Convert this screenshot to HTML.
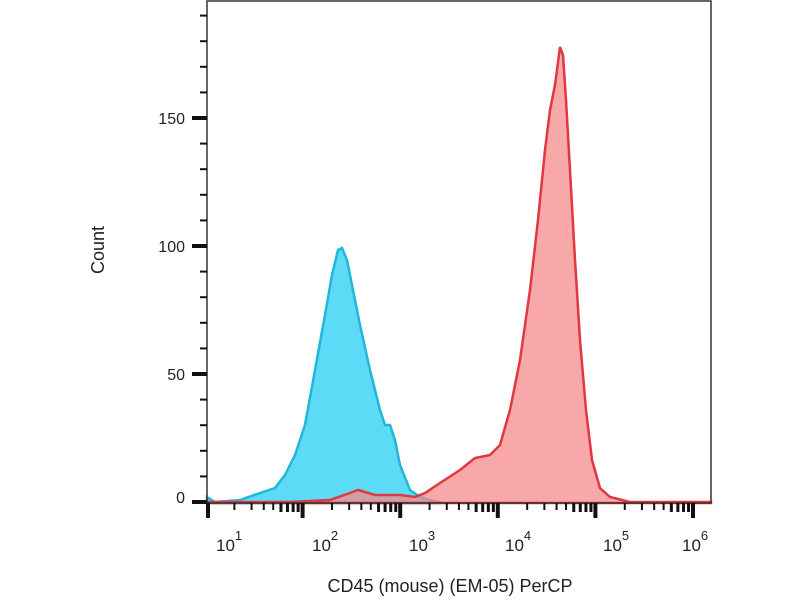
<!DOCTYPE html>
<html><head><meta charset="utf-8"><style>
body{margin:0;background:#fff;}
svg text{font-family:"Liberation Sans",sans-serif;fill:#222;}
</style></head><body>
<svg width="800" height="600" viewBox="0 0 800 600" xmlns="http://www.w3.org/2000/svg">
<rect width="800" height="600" fill="#fff"/>
<g id="curves">
<path d="M207,497 L215,502 L240,500 L260,493 L275,488 L285,475 L295,455 L305,425 L315,370 L325,315 L332,275 L338,250 L342,248 L347,260 L352,285 L360,325 L370,370 L380,410 L385,425 L390,425 L395,440 L400,465 L410,490 L420,497 L430,500 L440,502 L440,503 L207,503 Z" fill="#3fd4f4" fill-opacity="0.85" stroke="#1fb8d8" stroke-width="2.5"/>
<path d="M207,502 L290,502 L330,500 L350,493 L358,490 L365,492 L375,495 L400,495 L415,497 L425,493 L440,483 L460,470 L475,458 L490,455 L500,445 L510,410 L520,360 L530,290 L538,220 L545,150 L550,110 L555,85 L560,47 L563,55 L566,100 L570,170 L575,260 L580,340 L586,410 L592,460 L600,488 L610,497 L630,502 L711,502 L711,503 L207,503 Z" fill="#f68b8b" fill-opacity="0.75" stroke="#e0383f" stroke-width="2.5"/>
</g>
<rect x="207" y="1" width="504" height="502" fill="none" stroke="#333" stroke-width="1.5"/>
<g stroke="#111">
<line x1="192" y1="502" x2="207" y2="502" stroke-width="4"/>
<line x1="192" y1="374" x2="207" y2="374" stroke-width="4"/>
<line x1="192" y1="246" x2="207" y2="246" stroke-width="4"/>
<line x1="192" y1="118" x2="207" y2="118" stroke-width="4"/>
</g>
<g stroke="#111" stroke-width="2" id="ymin"></g>
<g stroke="#111" id="xt"></g>
<text x="185" y="124" font-size="16" text-anchor="end">150</text>
<text x="185" y="252" font-size="16" text-anchor="end">100</text>
<text x="185" y="380" font-size="16" text-anchor="end">50</text>
<text x="185" y="503" font-size="16" text-anchor="end">0</text>
<text transform="translate(104,250) rotate(-90)" font-size="18" text-anchor="middle">Count</text>
<text x="450" y="592" font-size="18" text-anchor="middle">CD45 (mouse) (EM-05) PerCP</text>
<g font-size="17">
<text x="216" y="551">10<tspan dy="-11" font-size="13">1</tspan></text>
<text x="312" y="551">10<tspan dy="-11" font-size="13">2</tspan></text>
<text x="409" y="551">10<tspan dy="-11" font-size="13">3</tspan></text>
<text x="505" y="551">10<tspan dy="-11" font-size="13">4</tspan></text>
<text x="603" y="551">10<tspan dy="-11" font-size="13">5</tspan></text>
<text x="682" y="551">10<tspan dy="-11" font-size="13">6</tspan></text>
</g>
<script>
var ns="http://www.w3.org/2000/svg";
var g=document.getElementById("ymin");
for(var v=10;v<=190;v+=10){if(v%50==0)continue;var y=502-v*2.56;var l=document.createElementNS(ns,"line");l.setAttribute("x1",200);l.setAttribute("x2",207);l.setAttribute("y1",y);l.setAttribute("y2",y);g.appendChild(l);}
var xt=document.getElementById("xt");
function ln(x,len,w){var l=document.createElementNS(ns,"line");l.setAttribute("x1",x);l.setAttribute("x2",x);l.setAttribute("y1",503);l.setAttribute("y2",503+len);l.setAttribute("stroke-width",w);xt.appendChild(l);}
for(var d=0;d<=6;d++){var x0=205+97.6*(d-1);if(x0>=207&&x0<=712)ln(x0,15,4);for(var k=2;k<=9;k++){var x=x0+97.6*Math.log10(k);if(x>207&&x<711)ln(x,k>=6?9:7,k>=6?3:2);}}
ln(208,15,4);
</script>
</svg>
</body></html>
